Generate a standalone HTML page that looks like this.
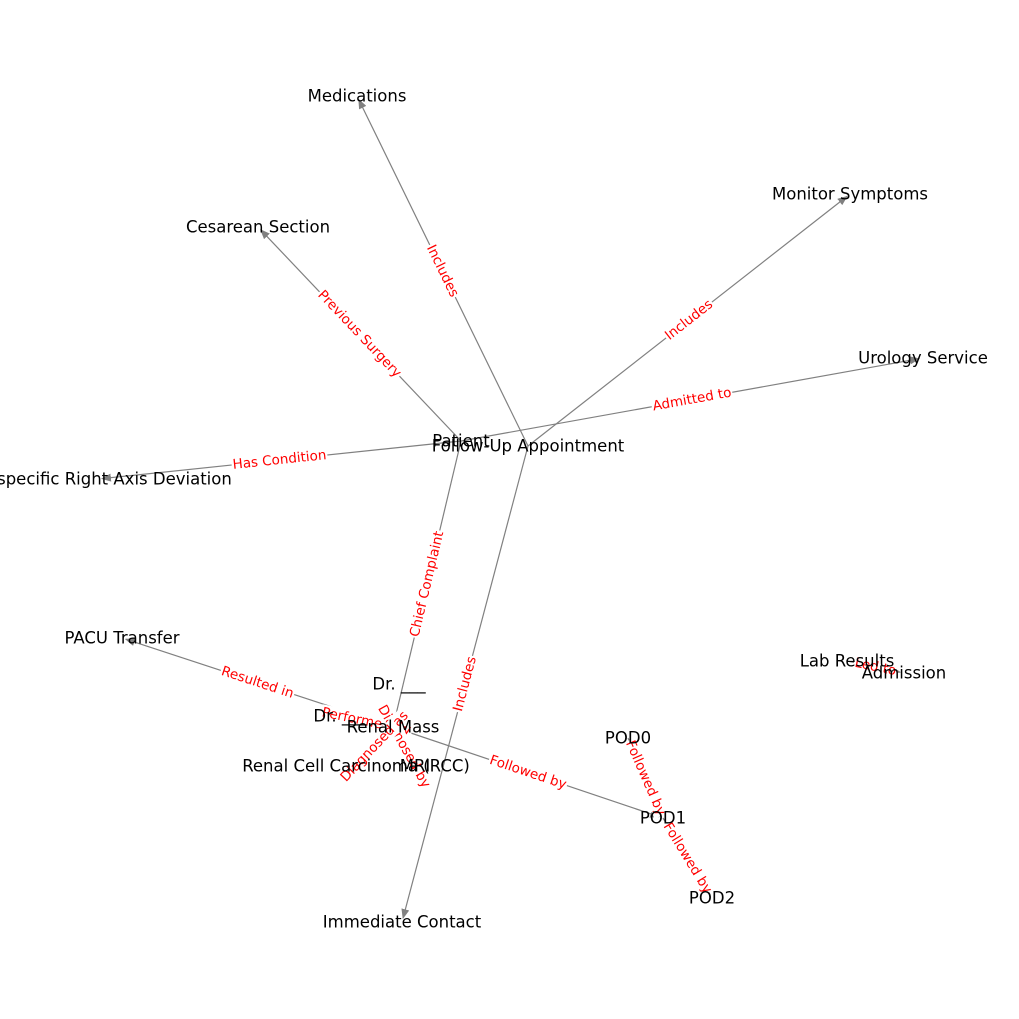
<!DOCTYPE html>
<html><head><meta charset="utf-8"><style>
html,body{margin:0;padding:0;background:#fff;}
svg{display:block;font-family:"DejaVu Sans","Liberation Sans",sans-serif;}
</style></head><body>
<svg id="g" width="1019" height="1019" viewBox="0 0 1019 1019" xmlns="http://www.w3.org/2000/svg">
<defs><marker id="ah" markerWidth="10" markerHeight="8" refX="9" refY="4" orient="auto" markerUnits="userSpaceOnUse"><path d="M0,0 L10,4 L0,8 z" fill="#808080"/></marker></defs>
<g id="edges"></g><g id="elabels"></g><g id="nodes"></g>
</svg>
<script>
const nodeNames=["Patient","Follow-Up Appointment","Medications","Cesarean Section","Monitor Symptoms","Urology Service","Nonspecific Right Axis Deviation","PACU Transfer","Dr. ___","Dr. ___ ","Renal Mass","Renal Cell Carcinoma (RCC)","MRI","POD0","POD1","POD2","Immediate Contact","Lab Results","Admission"];
const nodeX=[461,528,357,258,850,923,98,122,399,340,393,356,415,628,663,712,402,847,904];
const nodeY=[441,446,96,227,194,358,479,638,684,716,727,766,766,738,818,898,922,661,673];
const edgeFrom=[0,0,0,0,1,1,1,10,10,9,12,11,13,14,17];
const edgeTo=[3,6,5,10,2,4,16,7,14,10,10,10,14,15,18];
const edgeLabels=["Previous Surgery","Has Condition","Admitted to","Chief Complaint","Includes","Includes","Includes","Resulted in","Followed by","Performed by","Diagnosed by","Diagnosed as","Followed by","Followed by","Led to"];
const NS="http://www.w3.org/2000/svg";
const E=document.getElementById('edges'),L=document.getElementById('elabels'),N=document.getElementById('nodes');
for(let i=0;i<edgeFrom.length;i++){
  const a=edgeFrom[i],b=edgeTo[i];
  const x1=nodeX[a],y1=nodeY[a],x2=nodeX[b],y2=nodeY[b];
  const dx=x2-x1,dy=y2-y1,len=Math.hypot(dx,dy)||1;
  const ex=x2-dx/len*4,ey=y2-dy/len*4;
  const ln=document.createElementNS(NS,'line');
  
  
  ln.setAttribute('x1',x1);ln.setAttribute('y1',y1);ln.setAttribute('x2',ex);ln.setAttribute('y2',ey);
  ln.setAttribute('stroke','#808080');ln.setAttribute('stroke-width','1.2');ln.setAttribute('marker-end','url(#ah)');
  E.appendChild(ln);
  let ang=Math.atan2(dy,dx)*180/Math.PI;
  if(ang>90)ang-=180; if(ang<-90)ang+=180;
  const mx=(x1+x2)/2,my=(y1+y2)/2;
  const g=document.createElementNS(NS,'g');
  
  
  g.setAttribute('transform','translate('+mx+','+my+') rotate('+ang+')');
  const t=document.createElementNS(NS,'text');
  t.setAttribute('text-anchor','middle');t.setAttribute('dominant-baseline','central');
  t.setAttribute('font-size','13.5');t.setAttribute('fill','red');
  t.textContent=edgeLabels[i];
  g.appendChild(t);L.appendChild(g);
  const bb=t.getBBox();
  const r=document.createElementNS(NS,'rect');
  r.setAttribute('x',bb.x-1);r.setAttribute('y',bb.y);r.setAttribute('width',bb.width+2);r.setAttribute('height',bb.height);
  r.setAttribute('fill','#fff');
  g.insertBefore(r,t);
}
for(let i=0;i<nodeNames.length;i++){
  const t=document.createElementNS(NS,'text');
  
  
  t.setAttribute('x',nodeX[i]);t.setAttribute('y',nodeY[i]);
  t.setAttribute('text-anchor','middle');t.setAttribute('dominant-baseline','central');
  t.setAttribute('font-size','16.5');t.setAttribute('fill','#000');
  t.textContent=nodeNames[i];
  N.appendChild(t);
}
</script>
</body></html>
